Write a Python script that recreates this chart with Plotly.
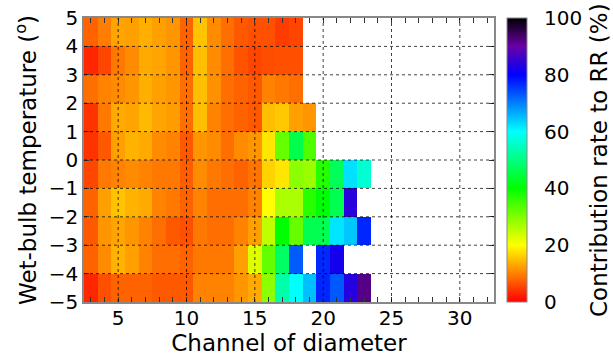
import plotly.graph_objects as go

# Channel of diameter (cell centres)
channels = list(range(3, 24))
# Wet-bulb temperature bins (cell centres), bottom to top
wetbulb = [-4.5, -3.5, -2.5, -1.5, -0.5, 0.5, 1.5, 2.5, 3.5, 4.5]

N = None
row_m4p5 = [3, 6.3, 7.8, 7.8, 7.8, 7, 7, 7, 10.2, 10.2, 10.2, 11.8, 13.3, 29, 53.3, 60, 65, 77, 73, 83.5, 92]
row_m3p5 = [7.8, 11, 14, 12.5, 10.2, 8.6, 8.6, 7.8, 9.4, 9.4, 9.4, 12.5, 22.7, 32.2, 47.8, 72.9, N, 76.9, 82, N, N]
row_m2p5 = [7, 11.8, 12.9, 11.8, 10.2, 8.6, 7, 6.3, 9.4, 8.6, 8.6, 10.2, 12.5, 25, 40, 32, 46.3, 46.3, 62, 64.3, 77]
row_m1p5 = [7.8, 12.5, 15.3, 14, 13.3, 10.2, 9.4, 7.8, 10.2, 8.6, 8.6, 8.6, 10.2, 20, 26.7, 26.7, 36.9, 40.5, 46.3, 84, N]
row_m0p5 = [5.5, 9.4, 10.2, 11, 10.2, 9.4, 9.4, 7.4, 11, 9.4, 8.6, 7.8, 9, 16.5, 18, 29, 28, 37, 47, 62.4, 56.5]
row_p0p5 = [4, 7, 12.5, 14, 13.3, 11, 10.2, 7, 11.8, 11, 8.6, 11, 11.8, 18, 32, 46, 34, N, N, N, N]
row_p1p5 = [4, 9.4, 13.3, 12.9, 14.5, 12.9, 12.2, 8.6, 15, 10.2, 8.6, 7.8, 7, 14.9, 15.7, 12.5, 11.8, N, N, N, N]
row_p2p5 = [8.6, 10.2, 11, 11.8, 13.7, 12.5, 11.8, 8.6, 15, 11.4, 8.6, 7.8, 7, 10.2, 9.4, 8.6, N, N, N, N, N]
row_p3p5 = [3, 5.5, 9.4, 11, 13.3, 12.9, 11.8, 7.8, 15, 11, 8.6, 6.5, 5.5, 6, 6.3, 6.3, N, N, N, N, N]
row_p4p5 = [7.8, 9.8, 12.9, 12.5, 13.7, 12.5, 11.8, 7.8, 15.3, 11, 8.6, 7, 6.3, 6.3, 4.7, 5.5, N, N, N, N, N]

z = [row_m4p5, row_m3p5, row_m2p5, row_m1p5, row_m0p5,
     row_p0p5, row_p1p5, row_p2p5, row_p3p5, row_p4p5]

x_ticks = [5, 10, 15, 20, 25, 30]
y_ticks = [-5, -4, -3, -2, -1, 0, 1, 2, 3, 4, 5]
cb_ticks = [0, 10, 20, 30, 40, 50, 60, 70, 80, 90, 100]
cb_text = ["0", "", "20", "", "40", "", "60", "", "80", "", "100"]

colorscale = [
    [0.0, "#ff0000"],
    [0.2, "#ffff00"],
    [0.4, "#00ff00"],
    [0.6, "#00ffff"],
    [0.8, "#0000ff"],
    [0.9, "#6a00a8"],
    [1.0, "#000000"],
]

FONT = "DejaVu Sans"
FS_TITLE = 23
FS_TICK = 20

fig = go.Figure(go.Heatmap(
    x=channels, y=wetbulb, z=z,
    zmin=0, zmax=100,
    colorscale=colorscale,
    hoverongaps=False,
    colorbar=dict(
        x=1.032, xanchor="left", xpad=0,
        y=0.5, yanchor="middle", len=1.0, lenmode="fraction", ypad=0,
        thickness=20,
        outlinecolor="#888888", outlinewidth=1,
        tickvals=cb_ticks, ticktext=cb_text,
        ticks="outside", ticklen=13, tickcolor="rgba(0,0,0,0)",
        tickfont=dict(family=FONT, size=FS_TICK, color="black"),
    ),
))

# colour bar title (as annotation so it can extend beyond the bar length)
fig.add_annotation(
    text="Contribution rate to RR (%)", textangle=-90,
    xref="paper", yref="paper", x=1.256, y=0.5,
    xanchor="center", yanchor="middle", showarrow=False,
    font=dict(family=FONT, size=FS_TITLE, color="black"),
)

# dotted grid drawn in front of the cells
for xv in x_ticks:
    fig.add_shape(type="line", xref="x", yref="paper", x0=xv, x1=xv, y0=0, y1=1,
                  line=dict(color="rgba(0,0,0,0.75)", width=1, dash="dot"), layer="above")
for yv in y_ticks[1:-1]:
    fig.add_shape(type="line", xref="paper", yref="y", x0=0, x1=1, y0=yv, y1=yv,
                  line=dict(color="rgba(0,0,0,0.75)", width=1, dash="dot"), layer="above")

fig.update_layout(
    width=613, height=357,
    margin=dict(l=84, r=119, t=18, b=55),
    plot_bgcolor="white", paper_bgcolor="white",
    font=dict(family=FONT, size=FS_TICK, color="black"),
    xaxis=dict(
        range=[2.5, 32.5], tickvals=x_ticks,
        ticks="inside", ticklen=5, tickcolor="#333333",
        minor=dict(dtick=1, tick0=0, ticks="inside", ticklen=5, tickcolor="#333333"),
        showgrid=False, zeroline=False, automargin=False,
        showline=True, linecolor="#888888", linewidth=1.5, mirror="ticks",
        tickfont=dict(family=FONT, size=FS_TICK),
        ticklabelstandoff=-3,
        title=dict(text="Channel of diameter", font=dict(family=FONT, size=FS_TITLE), standoff=0),
    ),
    yaxis=dict(
        range=[-5, 5], tickvals=y_ticks,
        ticks="inside", ticklen=5, tickcolor="#333333",
        showgrid=False, zeroline=False, automargin=False,
        showline=True, linecolor="#888888", linewidth=1.5, mirror="ticks",
        tickfont=dict(family=FONT, size=FS_TICK),
        title=dict(text="Wet-bulb temperature (<sup>o</sup>)", font=dict(family=FONT, size=FS_TITLE), standoff=6),
    ),
)

fig.write_html("out.html")
